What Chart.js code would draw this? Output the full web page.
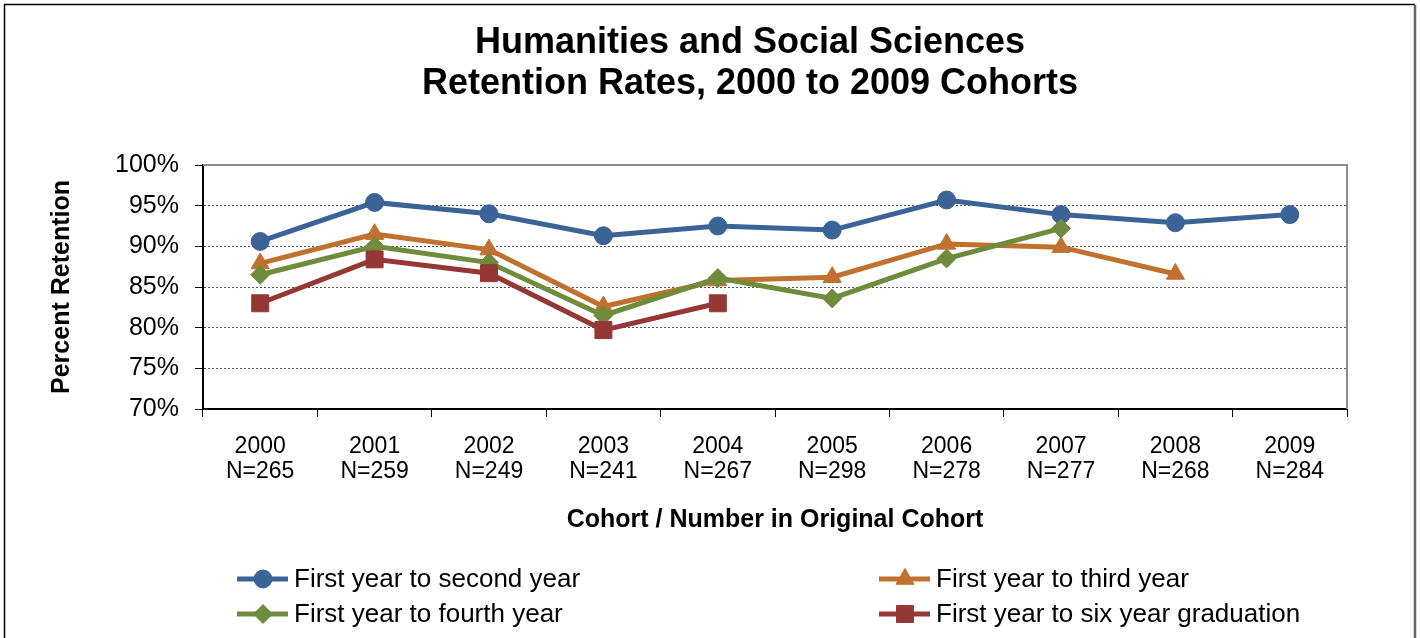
<!DOCTYPE html>
<html>
<head>
<meta charset="utf-8">
<title>Humanities and Social Sciences Retention Rates</title>
<script src="https://cdn.jsdelivr.net/npm/chart.js@4.4.0/dist/chart.umd.min.js"></script>
<style>
  html, body { margin: 0; padding: 0; background: #fff; }
</style>
</head>
<body>
<canvas id="retentionChart" width="1420" height="638"></canvas>
<script>
// Cohort labels (two lines under each tick)
const cohortYears = ['2000', '2001', '2002', '2003', '2004', '2005', '2006', '2007', '2008', '2009'];
const cohortSizes = ['N=265', 'N=259', 'N=249', 'N=241', 'N=267', 'N=298', 'N=278', 'N=277', 'N=268', 'N=284'];

// Retention rates in percent
const firstToSecond = [90.6, 95.4, 94.0, 91.3, 92.5, 92.0, 95.7, 93.9, 92.9, 93.9];
const firstToThird = [87.9, 91.5, 89.6, 82.6, 85.8, 86.2, 90.3, 89.9, 86.6, null];
const firstToFourth = [86.5, 90.0, 88.0, 81.5, 86.1, 83.6, 88.5, 92.2, null, null];
const firstToSixGrad = [83.0, 88.4, 86.7, 79.7, 83.0, null, null, null, null, null];

const yTicks = [70, 75, 80, 85, 90, 95, 100];

const FONT = "Arial, 'Liberation Sans', sans-serif";

function makeSeries(label, data, color, style, radius, order) {
    return {
        label: label,
        data: data,
        borderColor: color,
        backgroundColor: color,
        borderWidth: 5,
        pointStyle: style,
        pointRadius: radius,
        pointBorderWidth: 1,
        pointBackgroundColor: color,
        pointBorderColor: color,
        tension: 0,
        order: order
    };
}

// Title drawn by hand so it can sit over the plot like the original
const titlePlugin = {
    id: 'titleLines',
    afterDraw(chart) {
        const ctx = chart.ctx;
        ctx.save();
        ctx.fillStyle = '#000';
        ctx.font = 'bold 36px ' + FONT;
        ctx.textAlign = 'center';
        ctx.textBaseline = 'middle';
        ctx.fillText('Humanities and Social Sciences', 750, 43);
        ctx.fillText('Retention Rates, 2000 to 2009 Cohorts', 750, 84);
        ctx.restore();
    }
};

// Outer frame plus the grey top/right edge of the plot area
const framePlugin = {
    id: 'frame',
    beforeDatasetsDraw(chart) {
        const ctx = chart.ctx;
        const a = chart.chartArea;
        ctx.save();
        ctx.strokeStyle = '#8c8c8c';
        ctx.lineWidth = 2;
        ctx.beginPath();
        ctx.moveTo(a.left, a.top);
        ctx.lineTo(a.right, a.top);
        ctx.lineTo(a.right, a.bottom);
        ctx.stroke();
        ctx.restore();
    },
    afterDraw(chart) {
        const ctx = chart.ctx;
        ctx.save();
        ctx.lineWidth = 1.5;
        ctx.strokeStyle = '#000';
        ctx.beginPath();
        ctx.moveTo(4.5, 660);
        ctx.lineTo(4.5, 4.5);
        ctx.lineTo(1415, 4.5);
        ctx.stroke();
        ctx.strokeStyle = '#666';
        ctx.lineWidth = 2.5;
        ctx.beginPath();
        ctx.moveTo(1415, 4.5);
        ctx.lineTo(1415, 660);
        ctx.stroke();
        ctx.restore();
    }
};

// Two-column legend like the original
const legendPlugin = {
    id: 'gridLegend',
    afterDraw(chart) {
        const ctx = chart.ctx;
        const cols = [237, 879];
        const rows = [579, 614];
        chart.data.datasets.forEach(function (ds, i) {
            const x = cols[i % 2];
            const y = rows[Math.floor(i / 2)];
            ctx.save();
            ctx.strokeStyle = ds.borderColor;
            ctx.fillStyle = ds.backgroundColor;
            ctx.lineWidth = 5;
            ctx.beginPath();
            ctx.moveTo(x, y);
            ctx.lineTo(x + 51, y);
            ctx.stroke();
            ctx.lineWidth = 1;
            Chart.helpers.drawPoint(ctx, {
                pointStyle: ds.pointStyle,
                radius: ds.pointRadius,
                borderWidth: 1,
                rotation: 0
            }, x + 26, y);
            ctx.fillStyle = '#000';
            ctx.font = '26px ' + FONT;
            ctx.textAlign = 'left';
            ctx.textBaseline = 'middle';
            ctx.fillText(ds.label, x + 57, y + 1);
            ctx.restore();
        });
    }
};

const ctx = document.getElementById('retentionChart').getContext('2d');
new Chart(ctx, {
    type: 'line',
    data: {
        labels: cohortYears.map((year, i) => [year, cohortSizes[i]]),
        datasets: [
            makeSeries('First year to second year', firstToSecond, '#3b6395', 'circle', 9, 4),
            makeSeries('First year to third year', firstToThird, '#c0712f', 'triangle', 10.5, 3),
            makeSeries('First year to fourth year', firstToFourth, '#6f8b3c', 'rectRot', 9.5, 2),
            makeSeries('First year to six year graduation', firstToSixGrad, '#953735', 'rect', 12, 1)
        ]
    },
    options: {
        responsive: false,
        animation: false,
        devicePixelRatio: 1,
        layout: { padding: { top: 165, left: 40, right: 73, bottom: 103 } },
        plugins: {
            legend: { display: false },
            title: { display: false },
            tooltip: { enabled: false }
        },
        scales: {
            x: {
                offset: true,
                grid: {
                    offset: true,
                    drawOnChartArea: false,
                    tickLength: 8,
                    tickColor: '#000',
                    tickWidth: 1
                },
                border: { color: '#000', width: 2 },
                ticks: {
                    color: '#000',
                    padding: 18,
                    maxRotation: 0,
                    autoSkip: false,
                    font: { family: FONT, size: 23, lineHeight: 1.05 }
                },
                title: {
                    display: true,
                    text: 'Cohort / Number in Original Cohort',
                    color: '#000',
                    padding: { top: 23, bottom: 0 },
                    font: { family: FONT, size: 25, weight: 'bold' }
                },
                afterFit(scale) { scale.height = 126; }
            },
            y: {
                min: yTicks[0],
                max: yTicks[yTicks.length - 1],
                afterBuildTicks(scale) {
                    scale.ticks = yTicks.map(v => ({ value: v }));
                },
                grid: {
                    color: '#555',
                    lineWidth: 1,
                    tickLength: 8,
                    tickColor: '#000',
                    tickWidth: 1
                },
                border: { color: '#000', width: 2, dash: [2, 2] },
                ticks: {
                    color: '#000',
                    padding: 16,
                    font: { family: FONT, size: 25 },
                    callback: value => value + '%'
                },
                title: {
                    display: true,
                    text: 'Percent Retention',
                    color: '#000',
                    padding: { top: 7, bottom: 0 },
                    font: { family: FONT, size: 25, weight: 'bold' }
                },
                afterFit(scale) { scale.width = 163; }
            }
        }
    },
    plugins: [framePlugin, titlePlugin, legendPlugin]
});
</script>
</body>
</html>
